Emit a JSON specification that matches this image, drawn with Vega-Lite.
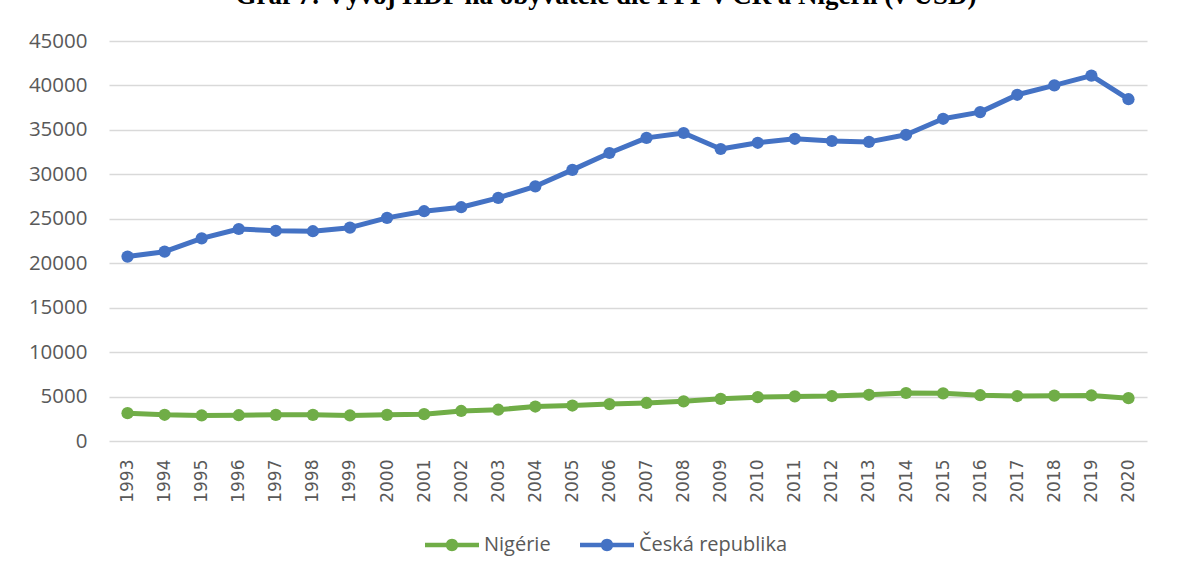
{
  "$schema": "https://vega.github.io/schema/vega-lite/v6.json",
  "width": 1038,
  "height": 400,
  "autosize": {"type": "none"},
  "padding": {"left": 109, "top": 41, "right": 45, "bottom": 136},
  "background": "white",
  "title": {
    "text": "Graf 7: Vývoj HDP na obyvatele dle PPP v ČR a Nigérii (v USD)",
    "font": "Liberation Serif",
    "fontSize": 27,
    "fontWeight": "bold",
    "color": "black",
    "anchor": "middle",
    "frame": "group",
    "baseline": "alphabetic",
    "offset": 0,
    "dx": -22
  },
  "data": {
    "values": [
      {"rok": "1993", "zeme": "Česká republika", "hdp": 20750},
      {"rok": "1994", "zeme": "Česká republika", "hdp": 21300},
      {"rok": "1995", "zeme": "Česká republika", "hdp": 22800},
      {"rok": "1996", "zeme": "Česká republika", "hdp": 23850},
      {"rok": "1997", "zeme": "Česká republika", "hdp": 23650},
      {"rok": "1998", "zeme": "Česká republika", "hdp": 23600},
      {"rok": "1999", "zeme": "Česká republika", "hdp": 24000},
      {"rok": "2000", "zeme": "Česká republika", "hdp": 25100},
      {"rok": "2001", "zeme": "Česká republika", "hdp": 25850},
      {"rok": "2002", "zeme": "Česká republika", "hdp": 26300},
      {"rok": "2003", "zeme": "Česká republika", "hdp": 27350},
      {"rok": "2004", "zeme": "Česká republika", "hdp": 28650},
      {"rok": "2005", "zeme": "Česká republika", "hdp": 30500},
      {"rok": "2006", "zeme": "Česká republika", "hdp": 32400},
      {"rok": "2007", "zeme": "Česká republika", "hdp": 34100},
      {"rok": "2008", "zeme": "Česká republika", "hdp": 34650},
      {"rok": "2009", "zeme": "Česká republika", "hdp": 32850},
      {"rok": "2010", "zeme": "Česká republika", "hdp": 33550},
      {"rok": "2011", "zeme": "Česká republika", "hdp": 34000},
      {"rok": "2012", "zeme": "Česká republika", "hdp": 33750},
      {"rok": "2013", "zeme": "Česká republika", "hdp": 33650},
      {"rok": "2014", "zeme": "Česká republika", "hdp": 34450},
      {"rok": "2015", "zeme": "Česká republika", "hdp": 36250},
      {"rok": "2016", "zeme": "Česká republika", "hdp": 37000},
      {"rok": "2017", "zeme": "Česká republika", "hdp": 38950},
      {"rok": "2018", "zeme": "Česká republika", "hdp": 40000},
      {"rok": "2019", "zeme": "Česká republika", "hdp": 41100},
      {"rok": "2020", "zeme": "Česká republika", "hdp": 38450},
      {"rok": "1993", "zeme": "Nigérie", "hdp": 3130},
      {"rok": "1994", "zeme": "Nigérie", "hdp": 2950},
      {"rok": "1995", "zeme": "Nigérie", "hdp": 2870},
      {"rok": "1996", "zeme": "Nigérie", "hdp": 2900},
      {"rok": "1997", "zeme": "Nigérie", "hdp": 2940},
      {"rok": "1998", "zeme": "Nigérie", "hdp": 2940},
      {"rok": "1999", "zeme": "Nigérie", "hdp": 2870},
      {"rok": "2000", "zeme": "Nigérie", "hdp": 2940},
      {"rok": "2001", "zeme": "Nigérie", "hdp": 3020},
      {"rok": "2002", "zeme": "Nigérie", "hdp": 3380},
      {"rok": "2003", "zeme": "Nigérie", "hdp": 3520},
      {"rok": "2004", "zeme": "Nigérie", "hdp": 3880},
      {"rok": "2005", "zeme": "Nigérie", "hdp": 3990},
      {"rok": "2006", "zeme": "Nigérie", "hdp": 4150},
      {"rok": "2007", "zeme": "Nigérie", "hdp": 4280},
      {"rok": "2008", "zeme": "Nigérie", "hdp": 4460},
      {"rok": "2009", "zeme": "Nigérie", "hdp": 4740},
      {"rok": "2010", "zeme": "Nigérie", "hdp": 4930},
      {"rok": "2011", "zeme": "Nigérie", "hdp": 5020},
      {"rok": "2012", "zeme": "Nigérie", "hdp": 5060},
      {"rok": "2013", "zeme": "Nigérie", "hdp": 5200},
      {"rok": "2014", "zeme": "Nigérie", "hdp": 5400},
      {"rok": "2015", "zeme": "Nigérie", "hdp": 5360},
      {"rok": "2016", "zeme": "Nigérie", "hdp": 5150},
      {"rok": "2017", "zeme": "Nigérie", "hdp": 5060},
      {"rok": "2018", "zeme": "Nigérie", "hdp": 5100},
      {"rok": "2019", "zeme": "Nigérie", "hdp": 5120},
      {"rok": "2020", "zeme": "Nigérie", "hdp": 4820}
    ]
  },
  "mark": {
    "type": "line",
    "strokeWidth": 5,
    "strokeJoin": "round",
    "point": {"filled": true, "size": 150, "opacity": 1}
  },
  "encoding": {
    "x": {
      "field": "rok",
      "type": "ordinal",
      "scale": {"padding": 0.5},
      "axis": {
        "title": null,
        "labelAngle": -90,
        "labelFont": "DejaVu Sans",
        "labelFontSize": 17,
        "labelColor": "#595959",
        "ticks": false,
        "domain": false,
        "grid": false,
        "labelPadding": 18
      }
    },
    "y": {
      "field": "hdp",
      "type": "quantitative",
      "scale": {"domain": [0, 45000], "nice": false},
      "axis": {
        "title": null,
        "values": [0, 5000, 10000, 15000, 20000, 25000, 30000, 35000, 40000, 45000],
        "format": "d",
        "labelFont": "Open Sans",
        "labelFontSize": 20.5,
        "labelColor": "#595959",
        "domain": false,
        "ticks": false,
        "labelPadding": 22,
        "grid": true,
        "gridColor": "#d9d9d9",
        "gridWidth": 1.5
      }
    },
    "color": {
      "field": "zeme",
      "type": "nominal",
      "sort": ["Nigérie", "Česká republika"],
      "scale": {"domain": ["Nigérie", "Česká republika"], "range": ["#70AD47", "#4472C4"]},
      "legend": {
        "title": null,
        "orient": "none",
        "legendX": 316,
        "legendY": 477,
        "direction": "horizontal",
        "symbolType": "M-1,-0.085H1V0.085H-1Z M0.23,0A0.23,0.23 0 1,1 -0.23,0A0.23,0.23 0 1,1 0.23,0Z",
        "symbolSize": 2916,
        "symbolStrokeWidth": 0,
        "labelFont": "Open Sans",
        "labelFontSize": 20,
        "labelColor": "#595959",
        "labelOffset": 5,
        "columnPadding": 29,
        "encode": {
          "symbols": {
            "update": {
              "fill": {"scale": "color", "field": "value"},
              "stroke": {"value": "transparent"},
              "opacity": {"value": 1}
            }
          }
        }
      }
    }
  },
  "config": {"view": {"stroke": null}}
}
